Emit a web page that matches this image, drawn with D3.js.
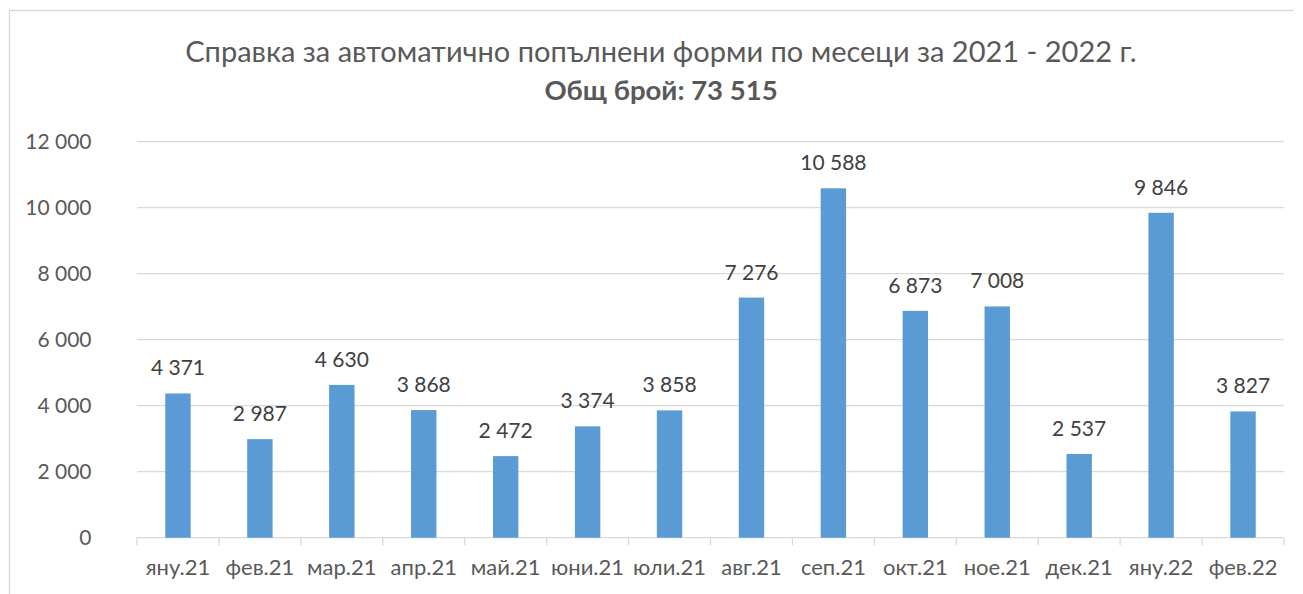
<!DOCTYPE html>
<meta charset="utf-8">
<script src="https://d3js.org/d3.v7.min.js"></script>
<style>
  body { margin: 0; background: #fff; }
  text { font-family: Lato, "Open Sans", sans-serif; }
  .grid line { stroke: #d9d9d9; stroke-width: 1.3px; }
  .xaxis path, .xaxis line { stroke: #d9d9d9; stroke-width: 1.3px; }
</style>
<body>
<div id="chart"></div>
<script>
  var months = ["яну.21", "фев.21", "мар.21", "апр.21", "май.21", "юни.21", "юли.21",
                "авг.21", "сеп.21", "окт.21", "ное.21", "дек.21", "яну.22", "фев.22"];
  var counts = [4371, 2987, 4630, 3868, 2472, 3374, 3858, 7276, 10588, 6873, 7008, 2537, 9846, 3827];
  var yTicks = [0, 2000, 4000, 6000, 8000, 10000, 12000];
  var titleLine1 = "Справка за автоматично попълнени форми по месеци за 2021 - 2022 г.";
  var titleLine2 = "Общ брой: 73 515";

  var width = 1303,
      height = 594;
  var margin = {top: 141.7, right: 19, bottom: 56.3, left: 137};

  // numbers with a space as thousands separator
  var fmt = function(v) { return d3.format(",")(v).replace(/,/g, " "); };

  var svg = d3.select("#chart")
      .append("svg")
      .attr("width", width)
      .attr("height", height);

  // chart frame
  svg.append("path")
      .attr("d", "M9.5," + height + "V10.5H1293.5")
      .attr("fill", "none")
      .attr("stroke", "#d9d9d9")
      .attr("stroke-width", 1.3);

  var x = d3.scaleBand()
      .domain(months)
      .range([margin.left, width - margin.right]);

  var y = d3.scaleLinear()
      .domain([0, 12000])
      .range([height - margin.bottom, margin.top]);

  // gridlines
  svg.append("g")
      .attr("class", "grid")
    .selectAll("line")
      .data(yTicks.slice(1))
    .enter().append("line")
      .attr("x1", margin.left)
      .attr("x2", width - margin.right)
      .attr("y1", function(d) { return y(d); })
      .attr("y2", function(d) { return y(d); });

  // y tick labels
  svg.append("g")
    .selectAll("text")
      .data(yTicks)
    .enter().append("text")
      .attr("x", 91.5)
      .attr("y", function(d) { return y(d) + 7.6; })
      .attr("text-anchor", "end")
      .attr("fill", "#595959")
      .style("font-size", "21px")
      .text(fmt);

  // x axis with ticks at category boundaries
  var xAxis = svg.append("g")
      .attr("class", "xaxis")
      .attr("transform", "translate(0," + y(0) + ")");
  xAxis.append("line")
      .attr("x1", margin.left)
      .attr("x2", width - margin.right);
  xAxis.selectAll(".tick")
      .data(d3.range(months.length + 1))
    .enter().append("line")
      .attr("x1", function(i) { return margin.left + i * x.step(); })
      .attr("x2", function(i) { return margin.left + i * x.step(); })
      .attr("y1", 0)
      .attr("y2", 7.5);
  xAxis.selectAll("text")
      .data(months)
    .enter().append("text")
      .attr("x", function(d) { return x(d) + x.bandwidth() / 2; })
      .attr("y", 37.5)
      .attr("text-anchor", "middle")
      .attr("fill", "#595959")
      .style("font-size", "22px")
      .text(function(d) { return d; });

  // bars
  var barW = x.bandwidth() * 0.31;
  svg.append("g")
    .selectAll("rect")
      .data(counts)
    .enter().append("rect")
      .attr("x", function(d, i) { return x(months[i]) + (x.bandwidth() - barW) / 2; })
      .attr("y", function(d) { return y(d); })
      .attr("width", barW)
      .attr("height", function(d) { return y(0) - y(d); })
      .attr("fill", "#5b9bd5");

  // value labels
  svg.append("g")
    .selectAll("text")
      .data(counts)
    .enter().append("text")
      .attr("x", function(d, i) { return x(months[i]) + x.bandwidth() / 2; })
      .attr("y", function(d) { return y(d) - 18; })
      .attr("text-anchor", "middle")
      .attr("fill", "#404040")
      .style("font-size", "21px")
      .text(fmt);

  // title
  svg.append("text")
      .attr("x", 661)
      .attr("y", 62)
      .attr("text-anchor", "middle")
      .attr("fill", "#595959")
      .style("font-size", "29px")
      .text(titleLine1);
  svg.append("text")
      .attr("x", 661)
      .attr("y", 99.5)
      .attr("text-anchor", "middle")
      .attr("fill", "#595959")
      .style("font-size", "27.5px")
      .style("font-weight", "bold")
      .text(titleLine2);
</script>
</body>
